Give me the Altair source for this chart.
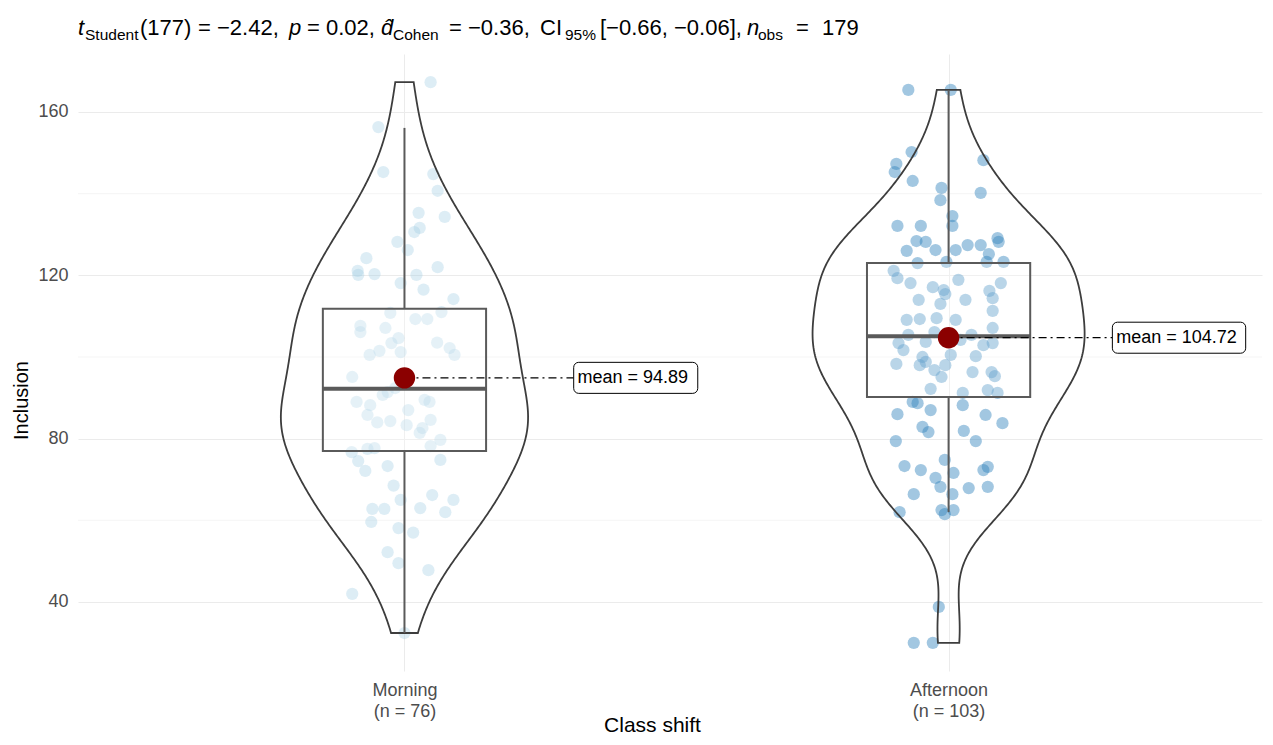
import numpy as np
import pandas as pd
import altair as alt

FONT = "Liberation Sans"

# ---------------- data ----------------
groups = ["Morning", "Afternoon"]

morning_values = [167.3, 156.3, 145.3, 144.8, 140.7, 135.3, 134.3, 130.6, 131.6, 128.2,
                  126.2, 124.2, 122.0, 121.1, 120.3, 120.1, 120.1, 118.1, 114.2, 107.6,
                  109.3, 110.8, 109.3, 107.1, 106.1, 104.6, 103.4, 101.5, 100.5, 101.2,
                  102.2, 100.5, 95.1, 91.4, 92.4, 89.0, 88.2, 89.0, 89.5, 90.7,
                  85.8, 87.0, 84.3, 84.6, 83.3, 82.6, 81.4, 79.7, 78.2, 76.7,
                  77.5, 77.7, 72.1, 74.5, 74.8, 73.3, 65.0, 66.2, 65.0, 62.8,
                  59.6, 62.8, 63.0, 62.0, 58.1, 52.2, 49.5, 47.8, 42.0, 32.4,
                  116.5, 68.5, 111.0, 57.0, 103.5, 84.0]
morning_jitter = [0.048, -0.048, -0.039, 0.053, 0.061, 0.026, 0.074, 0.018, 0.028, -0.013,
                  0.006, -0.070, 0.061, -0.086, -0.055, -0.085, 0.022, -0.007, 0.090, -0.081,
                  0.042, -0.026, 0.020, -0.035, -0.081, -0.011, -0.024, -0.046, -0.064, -0.007,
                  0.083, 0.092, -0.096, -0.031, -0.017, -0.088, -0.063, 0.046, 0.037, -0.040,
                  -0.068, 0.007, -0.026, 0.048, 0.004, 0.033, 0.028, 0.066, 0.048, -0.097,
                  -0.068, -0.055, -0.072, -0.085, 0.066, -0.031, -0.007, 0.051, 0.090, -0.059,
                  -0.061, -0.037, 0.029, 0.075, -0.011, -0.031, -0.011, 0.044, -0.096, 0.000,
                  0.035, -0.020, 0.068, 0.016, 0.060, -0.050]

afternoon_values = [165.4, 165.4, 150.2, 148.2, 147.3, 145.3, 143.1, 141.4, 140.2, 138.4,
                    134.5, 132.1, 132.1, 132.1, 127.4, 128.4, 128.2, 129.1, 128.2, 127.4,
                    126.2, 125.2, 126.0, 123.3, 123.0, 121.1, 123.3, 123.3, 119.3, 118.1,
                    117.1, 116.4, 115.4, 116.2, 114.0, 114.4, 113.0, 111.3, 109.1, 109.3,
                    109.5, 107.1, 105.4, 106.1, 103.7, 105.4, 103.4, 103.4, 101.7, 100.5,
                    98.8, 98.3, 102.9, 98.0, 96.3, 95.3, 98.0, 96.8, 96.3, 95.1,
                    91.9, 92.2, 91.2, 89.0, 88.7, 91.2, 88.2, 83.8, 86.0, 81.6,
                    82.9, 81.9, 79.4, 79.4, 73.3, 74.8, 73.1, 72.3, 70.4, 71.6,
                    72.3, 68.2, 67.9, 68.2, 66.4, 66.4, 62.0, 62.5, 61.5, 62.5,
                    38.8, 30.0, 30.0, 104.2, 109.1, 100.0, 100.2, 114.0, 118.9, 118.1,
                    87.0, 85.8, 126.2]
afternoon_jitter = [-0.074, 0.004, -0.068, 0.064, -0.096, -0.099, -0.066, -0.013, 0.059, -0.015,
                    0.007, 0.007, -0.094, -0.051, 0.035, -0.059, -0.042, 0.090, 0.092, 0.059,
                    -0.024, 0.074, -0.077, -0.004, -0.057, -0.101, 0.070, 0.101, -0.094, -0.070,
                    -0.029, -0.009, -0.006, 0.075, -0.055, 0.081, -0.015, 0.081, -0.077, -0.053,
                    -0.022, 0.081, -0.074, -0.026, -0.042, 0.042, 0.081, -0.092, -0.083, 0.004,
                    -0.042, -0.096, 0.064, -0.053, 0.044, 0.085, -0.006, -0.026, 0.079, -0.013,
                    0.072, -0.033, 0.026, -0.066, -0.057, 0.090, 0.026, 0.099, -0.094, -0.037,
                    -0.048, 0.028, -0.097, 0.050, -0.081, -0.007, 0.072, -0.051, -0.024, 0.009,
                    0.064, -0.015, 0.037, 0.072, -0.064, 0.007, -0.090, -0.013, -0.007, 0.009,
                    -0.018, -0.064, -0.029, 0.022, 0.013, -0.048, 0.050, 0.031, 0.018, 0.096,
                    -0.033, 0.068, 0.013]

mean_values = [94.89, 104.72]
box_q1 = [77.0, 90.2]
box_median = [92.2, 105.1]
box_q3 = [111.8, 123.0]
whisker_low = [32.4, 62.0]
whisker_high = [156.1, 165.4]

y_ticks = [40, 80, 120, 160]
y_minor_ticks = [60, 100, 140]

# title pieces: (text, style)
title_pieces = [
    ("t", "italic"), ("Student", "sub"), ("(177)", "normal"), ("= \u22122.42,", "normal"),
    ("p", "italic"), ("= 0.02,", "normal"), ("d\u0302", "italic"), ("Cohen", "sub"),
    ("= \u22120.36,", "normal"), ("CI", "normal"), ("95%", "sub"),
    ("[\u22120.66, \u22120.06],", "normal"),
    ("n", "italic"), ("obs", "sub"), ("=", "normal"), ("179", "normal"),
]

# ---------------- layout constants ----------------
W, H = 1184, 617
X_DOMAIN = [-0.6, 1.576]
Y_DOMAIN = [23.1, 174.2]
title_x = [0, 7, 62, 120, 211, 229, 303, 315, 371, 462, 487, 522, 669, 680, 718, 744]
TITLE_Y_MAIN, TITLE_Y_SUB = -19, -14
label_offset = [0.311, 0.301]
label_width = [0.228, 0.245]
BOX_HALF = 0.15
VIOLIN_HALF = 0.25

GRID = "#ebebeb"
BOXCOL = "#5a5a5a"

xscale = alt.Scale(domain=X_DOMAIN, nice=False, zero=False)
yscale = alt.Scale(domain=Y_DOMAIN, nice=False, zero=False)

# ---------------- tables ----------------
pts = pd.DataFrame({
    "group": ["Morning"] * len(morning_values) + ["Afternoon"] * len(afternoon_values),
    "pos": [0] * len(morning_values) + [1] * len(afternoon_values),
    "value": morning_values + afternoon_values,
    "jitter": morning_jitter + afternoon_jitter,
})

stats = pd.DataFrame({
    "group": groups, "pos": [0, 1], "q1": box_q1, "median": box_median, "q3": box_q3,
    "lo": whisker_low, "hi": whisker_high, "mean": mean_values,
    "off": label_offset, "lw": label_width,
})

n_labels = {
    0: ["Morning", f"(n = {len(morning_values)})"],
    1: ["Afternoon", f"(n = {len(afternoon_values)})"],
}
label_expr = (f"datum.value == 0 ? ['{n_labels[0][0]}', '{n_labels[0][1]}'] : "
              f"['{n_labels[1][0]}', '{n_labels[1][1]}']")

AX_X = alt.Axis(values=[0, 1], labelExpr=label_expr, title="Class shift",
                grid=True, gridColor=GRID, gridWidth=1, ticks=False, domain=False,
                labelFontSize=18, labelColor="#4d4d4d", labelFont=FONT,
                labelLineHeight=21, labelPadding=10,
                titleFontSize=21, titleFont=FONT, titleFontWeight="normal",
                titleColor="black", titleX=574, titleY=60, titleBaseline="alphabetic",
                titleAlign="center")
AX_Y = alt.Axis(values=y_ticks, title="Inclusion", grid=True, gridColor=GRID,
                gridWidth=1, ticks=False, domain=False, labelFontSize=18,
                labelColor="#4d4d4d", labelFont=FONT, labelPadding=10,
                titleFontSize=20, titleFont=FONT, titleFontWeight="normal",
                titleColor="black", titleX=-51, titleY=346, titleAngle=-90,
                titleAlign="center", titleBaseline="alphabetic")


def X(field):
    return alt.X(field, scale=xscale, axis=AX_X)


def Y(field):
    return alt.Y(field, scale=yscale, axis=AX_Y)


# ---------------- layers ----------------
base_axes = alt.Chart(pts).mark_point(opacity=0).encode(x=X("pos:Q"), y=Y("value:Q"))

minor = alt.Chart(pd.DataFrame({"v": y_minor_ticks})).mark_rule(
    color="#f3f3f3", strokeWidth=0.8
).encode(y=Y("v:Q"))

points = alt.Chart(pts).transform_calculate(
    xj="datum.pos + datum.jitter"
).mark_circle(size=150, strokeWidth=0).encode(
    x=X("xj:Q"),
    y=Y("value:Q"),
    color=alt.Color("group:N", scale=alt.Scale(domain=groups, range=["#9ecae1", "#3182bd"]),
                    legend=None),
    opacity=alt.Opacity("group:N", scale=alt.Scale(domain=groups, range=[0.35, 0.45]),
                        legend=None),
)


def nrd0(v):
    v = np.asarray(v, dtype=float)
    q75, q25 = np.percentile(v, [75, 25])
    return 0.9 * min(v.std(ddof=1), (q75 - q25) / 1.34) * len(v) ** -0.2


def kde_max(v, bw):
    v = np.asarray(v, dtype=float)
    grid = np.linspace(v.min(), v.max(), 512)
    d = np.exp(-0.5 * ((grid[:, None] - v[None, :]) / bw) ** 2).sum(axis=1)
    return (d / (len(v) * bw * np.sqrt(2 * np.pi))).max()


series = [morning_values, afternoon_values]
bws = [nrd0(s) for s in series]
max_dens = max(kde_max(s, b) for s, b in zip(series, bws))
k = VIOLIN_HALF / max_dens

violins = []
for i, (g, s, bw) in enumerate(zip(groups, series, bws)):
    violins.append(
        alt.Chart(pts).transform_filter(alt.datum.group == g).transform_density(
            "value", as_=["value", "density"], bandwidth=bw,
            extent=[float(min(s)), float(max(s))], steps=300
        ).transform_calculate(
            left=f"{i} - datum.density * {k}", right=f"{i} + datum.density * {k}"
        ).mark_area(orient="horizontal", fill="white", fillOpacity=0, stroke="#3d3d3d",
                    strokeWidth=1.8).encode(
            y=Y("value:Q"),
            x=X("left:Q"),
            x2="right:Q",
        )
    )

sbase = alt.Chart(stats).transform_calculate(
    bl=f"datum.pos - {BOX_HALF}", br=f"datum.pos + {BOX_HALF}",
    lx="datum.pos + datum.off", lx2="datum.pos + datum.off + datum.lw",
    tx="datum.pos + datum.off + 0.007",
    ly="datum.mean - 3.8", ly2="datum.mean + 3.8",
    label="'mean = ' + format(datum.mean, '.2f')",
)

whisk_hi = sbase.mark_rule(color=BOXCOL, strokeWidth=2).encode(
    x=X("pos:Q"), y=Y("q3:Q"), y2="hi:Q")
whisk_lo = sbase.mark_rule(color=BOXCOL, strokeWidth=2).encode(
    x=X("pos:Q"), y=Y("lo:Q"), y2="q1:Q")
box = sbase.mark_rect(fill="white", fillOpacity=0.25, stroke=BOXCOL, strokeWidth=2).encode(
    x=X("bl:Q"), x2="br:Q", y=Y("q1:Q"), y2="q3:Q")
med = sbase.mark_rule(color=BOXCOL, strokeWidth=4).encode(
    x=X("bl:Q"), x2="br:Q", y=Y("median:Q"))

connector = sbase.mark_rule(color="black", strokeWidth=1.3, strokeDash=[8, 4, 2, 4]).encode(
    x=X("pos:Q"), x2="lx:Q", y=Y("mean:Q"))
lbox = sbase.mark_rect(fill="white", stroke="black", strokeWidth=1, cornerRadius=5).encode(
    x=X("lx:Q"), x2="lx2:Q", y=Y("ly:Q"), y2="ly2:Q")
ltext = sbase.mark_text(align="left", baseline="middle", font=FONT, fontSize=18,
                        color="black").encode(
    x=X("tx:Q"), y=Y("mean:Q"), text="label:N")
mean_pt = sbase.mark_circle(size=460, color="#8b0000", opacity=1).encode(
    x=X("pos:Q"), y=Y("mean:Q"))

# title pieces
tdf = pd.DataFrame({
    "text": [t for t, _ in title_pieces],
    "style": [s for _, s in title_pieces],
    "px": title_x,
})
title_layers = []
for style, size, yy, fs in [("normal", 22, TITLE_Y_MAIN, "normal"),
                            ("italic", 22, TITLE_Y_MAIN, "italic"),
                            ("sub", 15.5, TITLE_Y_SUB, "normal")]:
    title_layers.append(
        alt.Chart(tdf).transform_filter(alt.datum.style == style).mark_text(
            align="left", baseline="alphabetic", font=FONT, fontSize=size,
            fontStyle=fs, color="black"
        ).encode(x=alt.X("px:Q", scale=None), y=alt.value(yy), text="text:N")
    )

chart = alt.layer(
    base_axes, minor, points, *violins, whisk_hi, whisk_lo, box, med,
    connector, lbox, ltext, mean_pt, *title_layers
).properties(
    width=W, height=H,
    padding={"left": 70, "top": 46, "right": 3, "bottom": 66},
    autosize=alt.AutoSizeParams(type="none"),
    background="white",
).configure_view(stroke=None)

chart.save("out.html", embed_options={"renderer": "svg", "actions": False})
